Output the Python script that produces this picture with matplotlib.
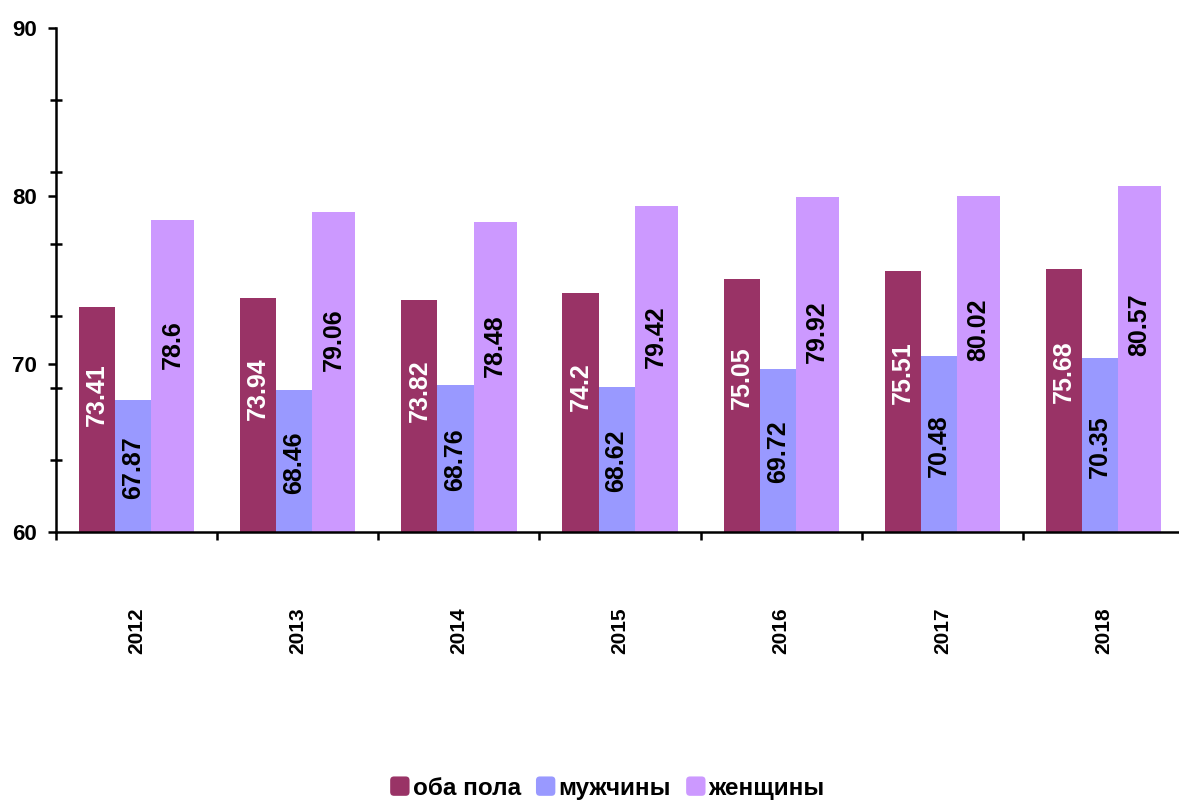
import numpy as np
import matplotlib
matplotlib.use("Agg")
import matplotlib.pyplot as plt
from matplotlib import font_manager as fm
from matplotlib.ticker import FixedLocator
from matplotlib.patches import FancyBboxPatch
from matplotlib.legend_handler import HandlerPatch

# pick the regular-width Liberation Sans Bold (Arial metrics), not the Narrow one
bold_file = None
for f in fm.findSystemFonts():
    if f.endswith('LiberationSans-Bold.ttf'):
        bold_file = f
        break
if bold_file:
    fm.fontManager.addfont(bold_file)
    fam = fm.FontProperties(fname=bold_file).get_name()
else:
    fam = 'DejaVu Sans'
plt.rcParams['font.family'] = [fam, 'DejaVu Sans']
plt.rcParams['font.weight'] = 'bold'


def fp(size):
    if bold_file:
        return fm.FontProperties(fname=bold_file, size=size)
    return fm.FontProperties(family='DejaVu Sans', weight='bold', size=size)


years = ['2012', '2013', '2014', '2015', '2016', '2017', '2018']
both = [73.41, 73.94, 73.82, 74.2, 75.05, 75.51, 75.68]
men = [67.87, 68.46, 68.76, 68.62, 69.72, 70.48, 70.35]
women = [78.6, 79.06, 78.48, 79.42, 79.92, 80.02, 80.57]
series_names = ['оба пола', 'мужчины', 'женщины']

colors = ['#993366', '#9999FF', '#CC99FF']
text_colors = ['white', 'black', 'black']
widths = [0.224, 0.224, 0.267]
label_frac = [0.61, 0.49, 0.6]
base = 60


class RoundSquare(HandlerPatch):
    def create_artists(self, legend, orig_handle, xdescent, ydescent,
                       width, height, fontsize, trans):
        s = min(width, height)
        p = FancyBboxPatch((-xdescent + (width - s) / 2, -ydescent + (height - s) / 2),
                           s, s, boxstyle="round,pad=0,rounding_size=%f" % (s * 0.2),
                           facecolor=orig_handle.get_facecolor(), edgecolor='none',
                           transform=trans)
        return [p]


fig = plt.figure(figsize=(11.79, 8), dpi=100)
ax = fig.add_axes([56 / 1179, 1 - 532 / 800, 1128 / 1179, 504 / 800])

x = np.arange(len(years))
left = x - 0.357
handles = []
for vals, name, c, tc, w, f in zip([both, men, women], series_names, colors,
                                   text_colors, widths, label_frac):
    b = ax.bar(left, np.array(vals) - base, bottom=base, width=w, align='edge',
               color=c, label=name, zorder=2)
    handles.append(b.patches[0])
    for xi, v in zip(left, vals):
        ax.text(xi + w / 2, base + f * (v - base), f"{v:g}", rotation=90,
                ha='center', va='center', color=tc, fontproperties=fp(18),
                zorder=3)
    left = left + w

ax.set_xlim(-0.5, 6.5)
ax.set_ylim(60, 90)

for s in ['top', 'right']:
    ax.spines[s].set_visible(False)
for s in ['left', 'bottom']:
    ax.spines[s].set_linewidth(1.8)

# y axis: labelled ticks every 10, extra crossing ticks every 30/7
ax.yaxis.set_major_locator(FixedLocator([60, 70, 80, 90]))
ax.yaxis.set_minor_locator(FixedLocator(list(60 + np.arange(8) * 30 / 7)))
ax.tick_params(axis='y', which='major', direction='out', length=6, width=1.8, pad=8)
ax.tick_params(axis='y', which='minor', direction='inout', length=9, width=1.8)

# x axis: ticks at category boundaries, rotated year labels
ax.set_xticks(x)
ax.set_xticklabels(years, rotation=90)
ax.xaxis.set_minor_locator(FixedLocator(list(np.arange(-0.5, 7, 1.0))))
ax.tick_params(axis='x', which='major', length=0, pad=54)
ax.tick_params(axis='x', which='minor', direction='out', length=6, width=1.8)

for lbl in ax.get_yticklabels():
    lbl.set_fontproperties(fp(16))
for lbl in ax.get_xticklabels():
    lbl.set_fontproperties(fp(15))

fig.legend(handles, series_names, loc='center', bbox_to_anchor=(0.515, 0.015),
           ncol=3, frameon=False, handlelength=0.85, handleheight=0.85,
           handletextpad=0.1, columnspacing=0.6, prop=fp(17.5),
           handler_map={h: RoundSquare() for h in handles})

fig.savefig('out.png', dpi=100)
